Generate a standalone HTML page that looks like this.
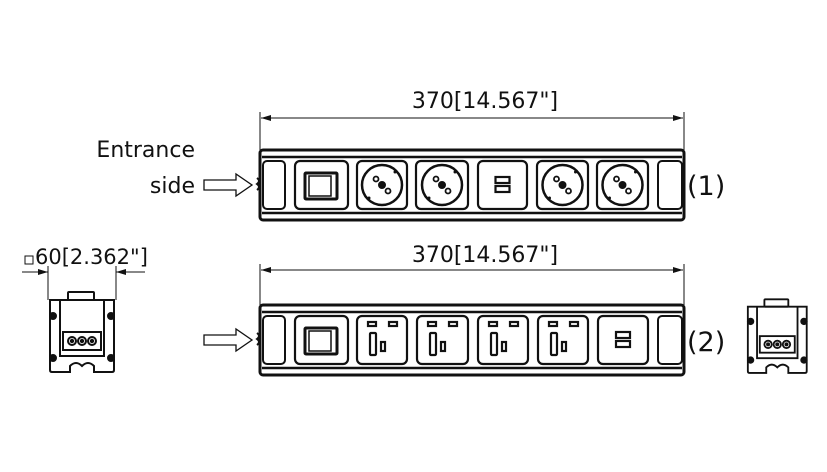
<!DOCTYPE html>
<html><head><meta charset="utf-8"><style>
body{margin:0;background:#fff}
svg{display:block}
text{font-family:"DejaVu Sans","Liberation Sans",sans-serif;fill:#111}
</style></head><body>
<svg id="s" width="827" height="472" viewBox="0 0 827 472" xmlns="http://www.w3.org/2000/svg">
<defs>
<marker id="a" viewBox="0 0 10 6" refX="10" refY="3" markerWidth="10" markerHeight="6" orient="auto-start-reverse" markerUnits="userSpaceOnUse"><path d="M0,0 L10,3 L0,6z" fill="#111"/></marker>
</defs>
<g stroke="#111" fill="none">
<line x1="260" y1="150" x2="260" y2="112" stroke-width="1"/>
<line x1="684" y1="150" x2="684" y2="112" stroke-width="1"/>
<line x1="261" y1="118" x2="683" y2="118" stroke-width="1" marker-start="url(#a)" marker-end="url(#a)"/>
<line x1="260" y1="305" x2="260" y2="264" stroke-width="1"/>
<line x1="684" y1="305" x2="684" y2="264" stroke-width="1"/>
<line x1="261" y1="270" x2="683" y2="270" stroke-width="1" marker-start="url(#a)" marker-end="url(#a)"/>
<line x1="48" y1="300" x2="48" y2="266" stroke-width="1"/>
<line x1="116" y1="300" x2="116" y2="266" stroke-width="1"/>
<line x1="22" y1="272" x2="48" y2="272" stroke-width="1" marker-end="url(#a)"/>
<line x1="145" y1="272" x2="116" y2="272" stroke-width="1" marker-end="url(#a)"/>
<path d="M204,180 H236 V174 L252,185 L236,196 V190 H204 Z" stroke-width="1.3"/>
<path d="M204,335 H236 V329 L252,340 L236,351 V345 H204 Z" stroke-width="1.3"/>
</g>
<g id="strips" stroke="#111" fill="none"></g>
<text x="485" y="108" font-size="22" text-anchor="middle">370[14.567"]</text>
<text x="485" y="262" font-size="22" text-anchor="middle">370[14.567"]</text>
<text x="195" y="157" font-size="22" text-anchor="end">Entrance</text>
<text x="195" y="193" font-size="22" text-anchor="end">side</text>
<text x="687" y="195" font-size="27">(1)</text>
<text x="687" y="351" font-size="27">(2)</text>
<rect x="25" y="256" width="8" height="8" fill="none" stroke="#111" stroke-width="1"/>
<text x="35" y="264" font-size="21">60[2.362"]</text>
<g stroke="#111" fill="none" stroke-width="2">
<g id="ev1" transform="translate(48,296)">
<rect x="20" y="-4" width="26" height="8" rx="1"/>
<path d="M2,4 H66 V74 Q66,76 64,76 H46 V70 Q40,64 34,70 Q28,64 22,70 V76 H4 Q2,76 2,74 Z"/>
<path d="M12,4 V60 H56 V4"/>
<rect x="15" y="36" width="38" height="18"/>
<circle cx="24" cy="45" r="4"/><circle cx="34" cy="45" r="4"/><circle cx="44" cy="45" r="4"/>
<circle cx="24" cy="45" r="1.2" fill="#111"/><circle cx="34" cy="45" r="1.2" fill="#111"/><circle cx="44" cy="45" r="1.2" fill="#111"/>
<circle cx="5" cy="20" r="3" fill="#111"/><circle cx="63" cy="20" r="3" fill="#111"/>
<circle cx="5" cy="62" r="3" fill="#111"/><circle cx="63" cy="62" r="3" fill="#111"/>
</g>
</g>
</svg>
<script>
var g=document.getElementById('strips'),h='';
function rr(x,y,w,hh,r,sw){return '<rect x="'+x+'" y="'+y+'" width="'+w+'" height="'+hh+'" rx="'+r+'" stroke-width="'+sw+'"/>';}
function strip(y0,mods){
 h+=rr(260,y0,424,70,3,3);
 h+='<line x1="262" y1="'+(y0+7)+'" x2="682" y2="'+(y0+7)+'" stroke-width="2.5"/>';
 h+='<line x1="262" y1="'+(y0+63)+'" x2="682" y2="'+(y0+63)+'" stroke-width="2.5"/>';
 h+='<path d="M257,'+(y0+28)+' q4,3 0,6 q4,3 0,6" stroke-width="2"/>';
 h+=rr(263,y0+11,22,48,4,2); h+=rr(658,y0+11,24,48,4,2);
 mods.forEach(function(m){
  var x=m[0],w=m[1],t=m[2],yy=y0+11,cx=x+w/2,cy=y0+35;
  h+=rr(x,yy,w,48,5,2.2);
  if(t=='sw'){h+=rr(x+10,yy+12,32,26,1,3)+rr(x+14,yy+15,22,20,0,1.5);}
  if(t=='de'){h+='<circle cx="'+cx+'" cy="'+cy+'" r="20" stroke-width="2.5"/>'+
   '<circle cx="'+cx+'" cy="'+cy+'" r="3.5" fill="#111" stroke-width="1"/>'+
   '<circle cx="'+(cx-6)+'" cy="'+(cy-6)+'" r="2.5" stroke-width="1.8"/>'+
   '<circle cx="'+(cx+6)+'" cy="'+(cy+6)+'" r="2.5" stroke-width="1.8"/>'+
   '<circle cx="'+(cx+13)+'" cy="'+(cy-13)+'" r="1.5" fill="#111" stroke-width="0"/>'+
   '<circle cx="'+(cx-13)+'" cy="'+(cy+13)+'" r="1.5" fill="#111" stroke-width="0"/>';}
  if(t=='usb'){h+=rr(cx-7,cy-8,14,6,0,2.2)+rr(cx-7,cy+1,14,6,0,2.2);}
  if(t=='uk'){h+=rr(x+11,yy+6,8,4,0,2.2)+rr(x+32,yy+6,8,4,0,2.2)+rr(x+13,yy+17,6,22,1,2.2)+rr(x+24,yy+26,4,9,0,2.2);}
 });
}
strip(150,[[295,53,'sw'],[357,50,'de'],[416,52,'de'],[478,49,'usb'],[537,51,'de'],[597,51,'de']]);
strip(305,[[295,53,'sw'],[357,50,'uk'],[417,51,'uk'],[478,50,'uk'],[538,50,'uk'],[598,50,'usb']]);
g.innerHTML=h;
var ev=document.getElementById('ev1'),c=ev.cloneNode(true);
c.setAttribute('transform','translate(746,303) scale(0.92)');
ev.parentNode.appendChild(c);
</script>
</body></html>
